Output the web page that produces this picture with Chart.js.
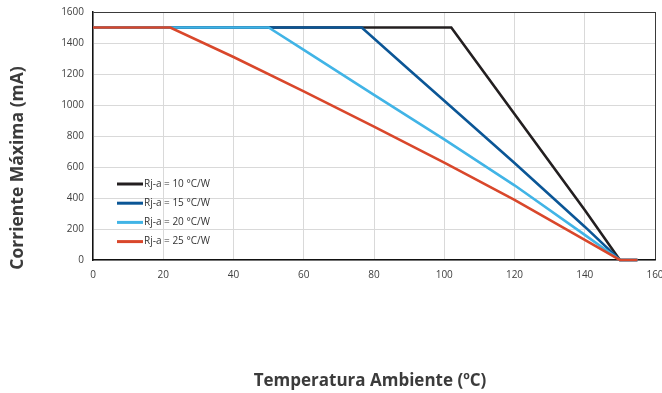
<!DOCTYPE html>
<html>
<head>
<meta charset="utf-8">
<script src="https://cdn.jsdelivr.net/npm/chart.js@4.4.1/dist/chart.umd.min.js"></script>
<style>
  html, body { margin: 0; padding: 0; background: #ffffff; }
  #wrap { width: 662px; height: 393px; }
</style>
</head>
<body>
<div id="wrap"><canvas id="c" width="662" height="393"></canvas></div>
<script>
// Axis ranges and ticks
const xTicks = [0, 20, 40, 60, 80, 100, 120, 140, 160];
const yTicks = [0, 200, 400, 600, 800, 1000, 1200, 1400, 1600];

const xTitle = 'Temperatura Ambiente (ºC)';
const yTitle = 'Corriente Máxima (mA)';

const seriesLabels = ['Rj-a = 10 °C/W', 'Rj-a = 15 °C/W', 'Rj-a = 20 °C/W', 'Rj-a = 25 °C/W'];
const seriesColors = ['#231f20', '#0b5696', '#41b4e6', '#d9472b'];

// Derating curves: ambient temperature (°C) vs. maximum current (mA)
const temp10 = [0, 102, 120, 140, 150, 155];
const curr10 = [1500, 1500, 942, 322, 0, 0];

const temp15 = [0, 76.5, 90, 100, 120, 140, 150, 155];
const curr15 = [1500, 1500, 1228, 1028, 626, 215, 0, 0];

const temp20 = [0, 50, 60, 80, 100, 120, 140, 150, 155];
const curr20 = [1500, 1500, 1356, 1065, 778, 482, 162, 0, 0];

const temp25 = [0, 22, 40, 60, 80, 100, 120, 140, 150, 155];
const curr25 = [1500, 1500, 1310, 1088, 860, 628, 388, 130, 0, 0];

const temps = [temp10, temp15, temp20, temp25];
const currents = [curr10, curr15, curr20, curr25];

const datasets = seriesLabels.map((label, i) => ({
  label,
  data: temps[i].map((t, k) => ({ x: t, y: currents[i][k] })),
  borderColor: seriesColors[i],
  backgroundColor: seriesColors[i],
  borderWidth: 2.6,
  pointRadius: 0,
  tension: 0,
  fill: false,
  clip: false,
  // later series are painted over earlier ones
  order: seriesLabels.length - 1 - i
}));

const gridColor = '#d9d9d9';
const frameColor = '#3a3a3a';
const tickFont = { family: 'Open Sans', size: 10 };

// Axis titles and the in-plot key
const extras = {
  id: 'extras',
  afterDatasetsDraw(chart) {
    const { ctx, chartArea } = chart;
    ctx.save();
    ctx.font = '10px "Open Sans"';
    ctx.textAlign = 'left';
    ctx.textBaseline = 'middle';
    const x0 = chartArea.left + 24;
    const y0 = chartArea.bottom - 76;
    seriesLabels.forEach((label, i) => {
      const y = y0 + i * 19.2;
      ctx.strokeStyle = seriesColors[i];
      ctx.lineWidth = 3;
      ctx.beginPath();
      ctx.moveTo(x0, y);
      ctx.lineTo(x0 + 26, y);
      ctx.stroke();
      ctx.fillStyle = '#333333';
      ctx.fillText(label, x0 + 27, y);
    });
    ctx.restore();
  },
  afterDraw(chart) {
    const { ctx } = chart;
    ctx.save();
    ctx.fillStyle = '#3b3b3b';
    ctx.font = 'bold 17px "Open Sans"';
    ctx.textAlign = 'center';
    ctx.textBaseline = 'middle';
    ctx.fillText(xTitle, 370, 381);
    ctx.translate(18, 168);
    ctx.rotate(-Math.PI / 2);
    ctx.font = 'bold 17.5px "Open Sans"';
    ctx.fillText(yTitle, 0, 0);
    ctx.restore();
  }
};

new Chart(document.getElementById('c'), {
  type: 'line',
  data: { datasets },
  options: {
    responsive: false,
    animation: false,
    devicePixelRatio: 1,
    layout: { autoPadding: false, padding: { top: 12, right: 7, left: 0, bottom: 0 } },
    plugins: { legend: { display: false }, tooltip: { enabled: false } },
    scales: {
      x: {
        type: 'linear',
        min: xTicks[0],
        max: xTicks[xTicks.length - 1],
        afterBuildTicks: (scale) => { scale.ticks = xTicks.map(v => ({ value: v })); },
        afterFit: (scale) => {
          scale.height = 133;
          scale.paddingLeft = 0;
          scale.paddingRight = 0;
        },
        ticks: {
          padding: 9,
          color: '#404040',
          font: tickFont,
          callback: (v) => String(v)
        },
        grid: {
          drawTicks: false,
          lineWidth: 1,
          color: (c) => (c.tick && c.tick.value === xTicks[xTicks.length - 1]) ? frameColor : gridColor
        },
        border: { display: true, color: '#111111', width: 1.5 }
      },
      y: {
        type: 'linear',
        min: yTicks[0],
        max: yTicks[yTicks.length - 1],
        afterBuildTicks: (scale) => { scale.ticks = yTicks.map(v => ({ value: v })); },
        afterFit: (scale) => {
          scale.width = 93;
          scale.paddingTop = 0;
          scale.paddingBottom = 0;
        },
        ticks: {
          padding: 9,
          color: '#404040',
          font: tickFont,
          callback: (v) => String(v)
        },
        grid: {
          drawTicks: false,
          lineWidth: 1,
          color: (c) => (c.tick && c.tick.value === yTicks[yTicks.length - 1]) ? frameColor : gridColor
        },
        border: { display: true, color: '#111111', width: 1.5 }
      }
    }
  },
  plugins: [extras]
});
</script>
</body>
</html>
